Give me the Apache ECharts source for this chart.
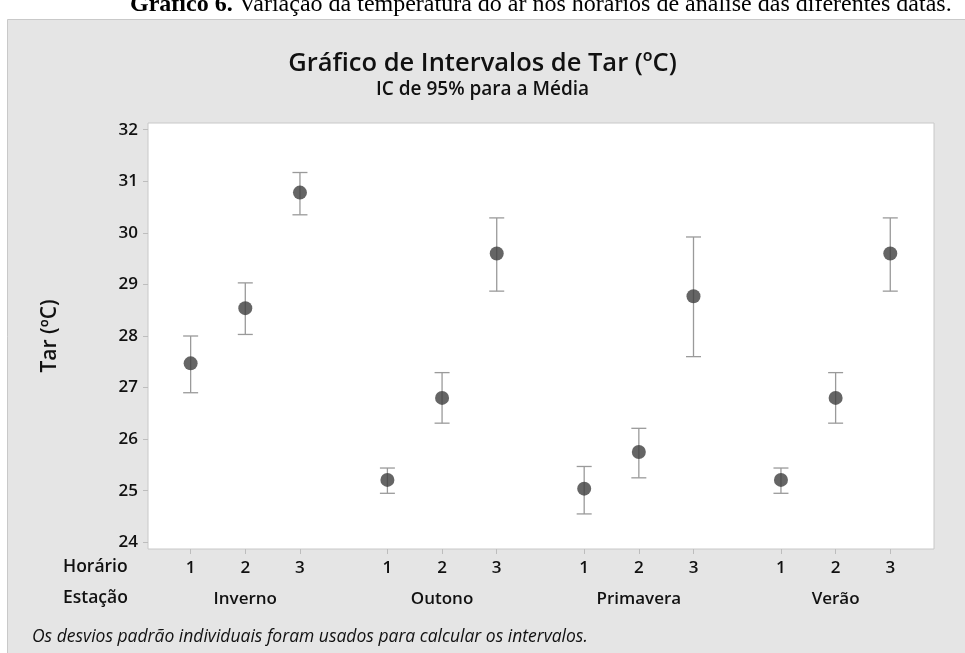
<!DOCTYPE html>
<html>
<head>
<meta charset="utf-8">
<script src="https://cdn.jsdelivr.net/npm/echarts@6/dist/echarts.min.js"></script>
<style>
html,body{margin:0;padding:0;background:#fff;}
#c{width:965px;height:653px;}
</style>
</head>
<body>
<div id="c"></div>
<script>
// ---- data ----
const estacoes = ['Inverno', 'Outono', 'Primavera', 'Verão'];
const horarios = ['1', '2', '3'];
const medias      = [27.47, 28.54, 30.78, 25.21, 26.80, 29.60, 25.04, 25.75, 28.77, 25.21, 26.80, 29.60];
const superiores  = [28.00, 29.03, 31.17, 25.44, 27.29, 30.29, 25.47, 26.21, 29.92, 25.44, 27.29, 30.29];
const inferiores  = [26.90, 28.03, 30.35, 24.95, 26.31, 28.87, 24.55, 25.25, 27.60, 24.95, 26.31, 28.87];
const yTicks = [24, 25, 26, 27, 28, 29, 30, 31, 32];

// ---- layout of the grouped axis (groups separated by a wider gap) ----
const GROUP_STEP = 3.6;
const xPos = [];
const xHorario = [];
estacoes.forEach((e, g) => horarios.forEach((h, i) => { xPos.push(g * GROUP_STEP + i); xHorario.push(h); }));
const groupCenters = estacoes.map((e, g) => g * GROUP_STEP + 1);

const meanData = medias.map((m, k) => [xPos[k], m]);
const ciData = medias.map((m, k) => [xPos[k], inferiores[k], superiores[k]]);

const FONT = "'Open Sans', 'Noto Sans', sans-serif";
const chart = echarts.init(document.getElementById('c'), null, {renderer: 'canvas'});

function findIdx(arr, v) {
  for (let i = 0; i < arr.length; i++) if (Math.abs(arr[i] - v) < 1e-6) return i;
  return -1;
}

chart.setOption({
  backgroundColor: '#ffffff',
  animation: false,
  graphic: [
    {type: 'rect', z: -100, silent: true, shape: {x: 7.5, y: 19.5, width: 970, height: 650},
     style: {fill: '#e5e5e5', stroke: '#c9c9c9', lineWidth: 1}},
    {type: 'text', z: 10, left: 130, top: -7, silent: true,
     style: {text: '{b|Gráfico 6.} Variação da temperatura do ar nos horários de análise das diferentes datas.',
             font: "24px 'Liberation Serif', 'Times New Roman', serif", fill: '#000',
             rich: {b: {font: "bold 24px 'Liberation Serif', 'Times New Roman', serif", fill: '#000'}}}},
    {type: 'text', left: 'center', top: 51, silent: true,
     style: {text: 'Gráfico de Intervalos de Tar (ºC)', font: "600 25.5px " + FONT, fill: '#111'}},
    {type: 'text', left: 'center', top: 80, silent: true,
     style: {text: 'IC de 95% para a Média', font: "600 19px " + FONT, fill: '#111'}},
    {type: 'text', left: 63, top: 558, silent: true,
     style: {text: 'Horário', font: "600 17.5px " + FONT, fill: '#111'}},
    {type: 'text', left: 63, top: 589, silent: true,
     style: {text: 'Estação', font: "600 17.5px " + FONT, fill: '#111'}},
    {type: 'text', left: 32, top: 628, silent: true,
     style: {text: 'Os desvios padrão individuais foram usados para calcular os intervalos.', font: "italic 17.5px " + FONT, fill: '#111'}}
  ],
  grid: {left: 148, top: 123, right: 31, bottom: 104, show: true, backgroundColor: '#ffffff', borderColor: '#c8c8c8', borderWidth: 1},
  xAxis: [
    {type: 'value', min: -0.78, max: 13.6, position: 'bottom',
     axisLine: {show: false, onZero: false}, splitLine: {show: false},
     axisTick: {show: true, customValues: xPos, length: 5, lineStyle: {color: '#bdbdbd'}},
     axisLabel: {customValues: xPos, margin: 11, color: '#111', fontFamily: FONT, fontWeight: 600, fontSize: 17,
                 formatter: v => { const i = findIdx(xPos, v); return i >= 0 ? xHorario[i] : ''; }}},
    {type: 'value', min: -0.78, max: 13.6, position: 'bottom', offset: 31,
     axisLine: {show: false, onZero: false}, splitLine: {show: false}, axisTick: {show: false},
     axisLabel: {customValues: groupCenters, margin: 11, color: '#111', fontFamily: FONT, fontWeight: 600, fontSize: 17,
                 formatter: v => { const i = findIdx(groupCenters, v); return i >= 0 ? estacoes[i] : ''; }}}
  ],
  yAxis: {
    type: 'value', min: 23.87, max: 32.13,
    name: 'Tar (ºC)', nameLocation: 'middle', nameGap: 87,
    nameTextStyle: {fontFamily: FONT, fontWeight: 600, fontSize: 21, color: '#111'},
    axisLine: {show: false, onZero: false}, splitLine: {show: false},
    axisTick: {show: true, customValues: yTicks, length: 5, lineStyle: {color: '#bdbdbd'}},
    axisLabel: {customValues: yTicks, margin: 10, color: '#111', fontFamily: FONT, fontWeight: 600, fontSize: 17}
  },
  series: [
    {type: 'custom', xAxisIndex: 0, data: ciData, z: 2,
     renderItem: (params, api) => {
       const x = api.value(0);
       const lo = api.coord([x, api.value(1)]);
       const hi = api.coord([x, api.value(2)]);
       const hw = 7.5;
       const st = {stroke: '#9a9a9a', lineWidth: 1.3};
       return {type: 'group', children: [
         {type: 'line', shape: {x1: lo[0], y1: lo[1], x2: hi[0], y2: hi[1]}, style: st},
         {type: 'line', shape: {x1: hi[0] - hw, y1: hi[1], x2: hi[0] + hw, y2: hi[1]}, style: st},
         {type: 'line', shape: {x1: lo[0] - hw, y1: lo[1], x2: lo[0] + hw, y2: lo[1]}, style: st}
       ]};
     }},
    {type: 'scatter', xAxisIndex: 0, data: meanData, symbol: 'circle', symbolSize: 14, z: 3,
     itemStyle: {color: '#3f3f3f'}}
  ]
});
</script>
</body>
</html>
